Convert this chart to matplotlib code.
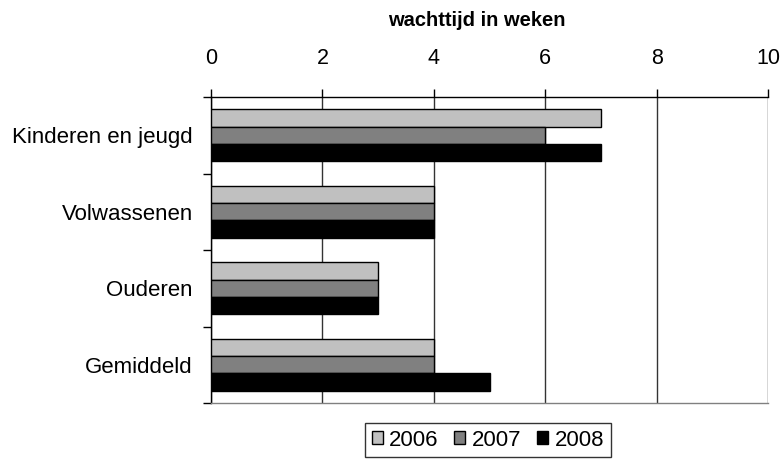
import matplotlib
matplotlib.use("Agg")
import matplotlib.pyplot as plt
import numpy as np

categories = ["Kinderen en jeugd", "Volwassenen", "Ouderen", "Gemiddeld"]
years = ["2006", "2007", "2008"]
v2006 = [7, 4, 3, 4]
v2007 = [6, 4, 3, 4]
v2008 = [7, 4, 3, 5]
colors = ["#C0C0C0", "#808080", "#000000"]
xticks = [0, 2, 4, 6, 8, 10]

plt.rcParams['font.family'] = ['Liberation Sans', 'DejaVu Sans']

fig = plt.figure(figsize=(7.83, 4.61), dpi=100)
ax = fig.add_axes([211/783, 1-403/461, (768-211)/783, (403-97)/461])

y = np.arange(len(categories))
h = 0.226
for i, (vals, c, lab) in enumerate(zip([v2006, v2007, v2008], colors, years)):
    ax.barh(y + (i-1)*h, vals, height=h, color=c, edgecolor="black", linewidth=1.0, label=lab, zorder=3)

ax.set_xlim(0, 10)
ax.set_ylim(len(categories)-0.5, -0.5)
ax.xaxis.tick_top()
ax.set_xticks(xticks)
ax.set_xticklabels([str(t) for t in xticks], fontsize=15.5)
ax.tick_params(axis='x', direction='out', length=6, width=1, pad=14, color='black')

fig.text(477/783, 1-20/461, "wachttijd in weken", fontsize=14.5, fontweight="bold",
         ha='center', va='center')

ax.set_yticks(y)
ax.set_yticklabels(categories, fontsize=16)
ax.tick_params(axis='y', which='major', length=0, pad=13)
ax.set_yticks(np.arange(-0.5, len(categories)), minor=True)
ax.tick_params(axis='y', which='minor', direction='out', length=6, width=1, color='black')

ax.grid(axis='x', color='#333333', linewidth=1, zorder=0)
ax.spines['right'].set_visible(False)
ax.spines['left'].set_color('black')
ax.spines['top'].set_color('black')
ax.spines['bottom'].set_color('#808080')
for s in ax.spines.values():
    s.set_linewidth(1)

leg = ax.legend(loc='center', bbox_to_anchor=(488/783, 1-440/461), bbox_transform=fig.transFigure,
                ncol=3, frameon=True, fancybox=False, fontsize=16, handlelength=0.5, handleheight=0.5,
                handletextpad=0.3, columnspacing=0.7, borderpad=0.3, edgecolor='black')
leg.get_frame().set_linewidth(1)

fig.savefig("out.png", dpi=100)
